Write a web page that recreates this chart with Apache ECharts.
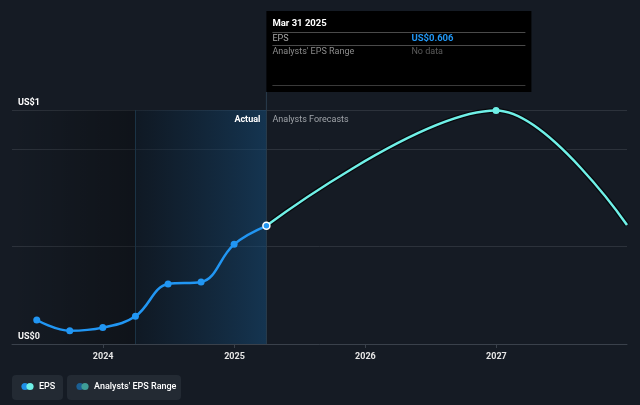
<!DOCTYPE html>
<html><head><meta charset="utf-8">
<script src="https://cdn.jsdelivr.net/npm/echarts@6/dist/echarts.min.js"></script>
<style>html,body{margin:0;padding:0;background:#151b24;}#c{width:640px;height:405px;}</style>
</head><body><div id="c"></div>
<script>
// ---- data ----
const actualDates = ['2023-06-30','2023-09-30','2023-12-31','2024-03-31','2024-06-30','2024-09-30','2024-12-31','2025-03-31'];
const actualEps   = [0.123, 0.068, 0.084, 0.142, 0.308, 0.318, 0.511, 0.606];
const forecastDates = ['2025-03-31','2026-12-31','2027-12-31'];
const forecastEps   = [0.606, 1.197, 0.610];
const yearTicks = ['2024-01-01','2025-01-01','2026-01-01','2027-01-01'];
const xMin = '2023-04-22', xMax = '2027-12-31';
const yMax = 1.2;
const pastStart = '2024-03-31';
const hoverDate = '2025-03-31', hoverLabel = 'Mar 31 2025', hoverValue = 'US$0.606';
const seriesNames = ['EPS', "Analysts' EPS Range"];

const FONT = 'Roboto, "Noto Sans", sans-serif';
const BLUE = '#2196f3', CYAN = '#6ff0e7';
const ts = d => new Date(d + 'T00:00:00Z').getTime();

const chart = echarts.init(document.getElementById('c'));
const actualData = actualDates.map((d, i) => {
  const p = { value: [ts(d), actualEps[i]] };
  if (i === actualDates.length - 1) p.itemStyle = { color: BLUE, borderColor: '#ffffff', borderWidth: 1.5 };
  return p;
});
const forecastData = forecastDates.map((d, i) => {
  const p = { value: [ts(d), forecastEps[i]] };
  if (i !== 1) p.symbol = 'none';
  return p;
});

chart.setOption({
  backgroundColor: '#151b24',
  animation: false,
  textStyle: { fontFamily: FONT },
  grid: { left: 12, right: 13, top: 110, bottom: 61 },
  xAxis: {
    type: 'value', min: ts(xMin), max: ts(xMax),
    axisLine: { lineStyle: { color: '#3a414b', width: 1 } },
    axisTick: { show: true, length: 4, lineStyle: { color: '#3a414b' }, customValues: yearTicks.map(ts) },
    axisLabel: { color: '#e6e6e6', fontSize: 9, fontWeight: 'bold', margin: 8, fontFamily: FONT,
      customValues: yearTicks.map(ts),
      formatter: v => String(new Date(v).getUTCFullYear()) },
    splitLine: { show: false }
  },
  yAxis: {
    type: 'value', min: 0, max: yMax, interval: 0.5,
    axisLine: { show: false }, axisTick: { show: false },
    splitLine: { lineStyle: { color: '#2c323b', width: 1 } },
    axisLabel: { inside: true, margin: 6, verticalAlign: 'bottom', padding: [0, 0, 3, 0],
      color: '#ffffff', fontSize: 9, fontWeight: 'bold', fontFamily: FONT,
      showMaxLabel: true, showMinLabel: true,
      formatter: v => (v === 0 || Math.abs(v - yMax) < 1e-9) ? 'US$' + Math.round(v) : '' }
  },
  series: [
    {
      name: 'areas', type: 'line', data: [], silent: true, z: 1,
      markArea: { silent: true, z: 1, data: [
        [{ xAxis: ts(xMin), itemStyle: { color: { type: 'linear', x: 0, y: 0, x2: 1, y2: 0,
            colorStops: [{ offset: 0, color: 'rgba(0,0,0,0)' }, { offset: 1, color: 'rgba(0,0,0,0.3)' }] } } },
         { xAxis: ts(pastStart) }],
        [{ xAxis: ts(pastStart), itemStyle: { color: { type: 'linear', x: 0, y: 0, x2: 1, y2: 0,
            colorStops: [{ offset: 0, color: 'rgba(8,22,36,0.4)' }, { offset: 1, color: 'rgba(20,78,125,0.5)' }] } } },
         { xAxis: ts(hoverDate) }]
      ] },
      markLine: { silent: true, z: 1, symbol: 'none', label: { show: false },
        lineStyle: { color: '#1b3345', type: 'solid', width: 1 },
        data: [{ xAxis: ts(pastStart) }] }
    },
    {
      name: 'forecastShadow', type: 'line', data: forecastData.map(p => p.value), smooth: 0.35,
      symbol: 'none', silent: true, lineStyle: { color: '#07090d', width: 5 }, z: 2
    },
    {
      name: 'EPS', type: 'line', data: forecastData, smooth: 0.35,
      symbol: 'circle', symbolSize: 7, itemStyle: { color: CYAN },
      lineStyle: { color: CYAN, width: 2.5 }, z: 3
    },
    {
      name: 'EPS', type: 'line', data: actualData, smooth: 0.4,
      symbol: 'circle', symbolSize: 7, itemStyle: { color: BLUE },
      lineStyle: { color: BLUE, width: 2.5 }, z: 4
    },
    { name: seriesNames[1], type: 'line', data: [] }
  ]
});

// ---- annotations (tooltip panel, labels, legend) ----
const hx = chart.convertToPixel({ xAxisIndex: 0 }, ts(hoverDate));
const gridTop = chart.convertToPixel({ yAxisIndex: 0 }, yMax);
const tipX = hx, tipY = 11, tipW = 265, tipH = 81;
const legendItems = [
  { x: 12, w: 51, text: seriesNames[0], c1: '#1e8fe6', c2: CYAN },
  { x: 67, w: 114, text: seriesNames[1], c1: '#1b5f93', c2: '#3f9e98' }
];
const graphic = [
  { type: 'line', shape: { x1: hx, y1: tipY + tipH, x2: hx, y2: chart.convertToPixel({ yAxisIndex: 0 }, 0) },
    style: { stroke: '#2a3d4e', lineWidth: 1 }, z: 1 },
  { type: 'rect', shape: { x: tipX, y: tipY, width: tipW, height: tipH }, style: { fill: '#000000' }, z: 10 },
  { type: 'text', x: tipX + 6, y: tipY + 13, style: { text: hoverLabel, fill: '#ffffff', font: 'bold 9.5px ' + FONT, verticalAlign: 'middle' }, z: 11 },
  { type: 'line', shape: { x1: tipX + 6, y1: tipY + 21.5, x2: tipX + tipW - 6, y2: tipY + 21.5 }, style: { stroke: '#4a4a4a', lineWidth: 1 }, z: 11 },
  { type: 'text', x: tipX + 6, y: tipY + 28, style: { text: seriesNames[0], fill: '#a9a9a9', font: '9px ' + FONT, verticalAlign: 'middle' }, z: 11 },
  { type: 'text', x: tipX + 145, y: tipY + 28, style: { text: hoverValue, fill: BLUE, font: 'bold 9.5px ' + FONT, verticalAlign: 'middle' }, z: 11 },
  { type: 'line', shape: { x1: tipX + 6, y1: tipY + 34.5, x2: tipX + tipW - 6, y2: tipY + 34.5 }, style: { stroke: '#4a4a4a', lineWidth: 1 }, z: 11 },
  { type: 'text', x: tipX + 6, y: tipY + 41, style: { text: seriesNames[1], fill: '#8c8c8c', font: '9px ' + FONT, verticalAlign: 'middle' }, z: 11 },
  { type: 'text', x: tipX + 145, y: tipY + 41, style: { text: 'No data', fill: '#5c5c5c', font: '9px ' + FONT, verticalAlign: 'middle' }, z: 11 },
  { type: 'line', shape: { x1: tipX + 6, y1: tipY + 74.5, x2: tipX + tipW - 6, y2: tipY + 74.5 }, style: { stroke: '#3a3a3a', lineWidth: 1 }, z: 11 },
  { type: 'text', x: hx - 6, y: gridTop + 10, style: { text: 'Actual', fill: '#ffffff', font: 'bold 9px ' + FONT, align: 'right', verticalAlign: 'middle' }, z: 5 },
  { type: 'text', x: hx + 6, y: gridTop + 10, style: { text: 'Analysts Forecasts', fill: '#a0a4a9', font: '9px ' + FONT, align: 'left', verticalAlign: 'middle' }, z: 5 }
];
legendItems.forEach(it => {
  graphic.push({ type: 'rect', shape: { x: it.x, y: 375, width: it.w, height: 25, r: 4 }, style: { fill: '#232a33' }, z: 5 });
  graphic.push({ type: 'circle', shape: { cx: it.x + 13, cy: 386.5, r: 3.6 }, style: { fill: it.c1 }, z: 6 });
  graphic.push({ type: 'circle', shape: { cx: it.x + 18, cy: 386.5, r: 3.6 }, style: { fill: it.c2 }, z: 7 });
  graphic.push({ type: 'text', x: it.x + 27, y: 386.5, style: { text: it.text, fill: '#ffffff', font: '500 9px ' + FONT, verticalAlign: 'middle' }, z: 6 });
});
chart.setOption({ graphic });
</script></body></html>
